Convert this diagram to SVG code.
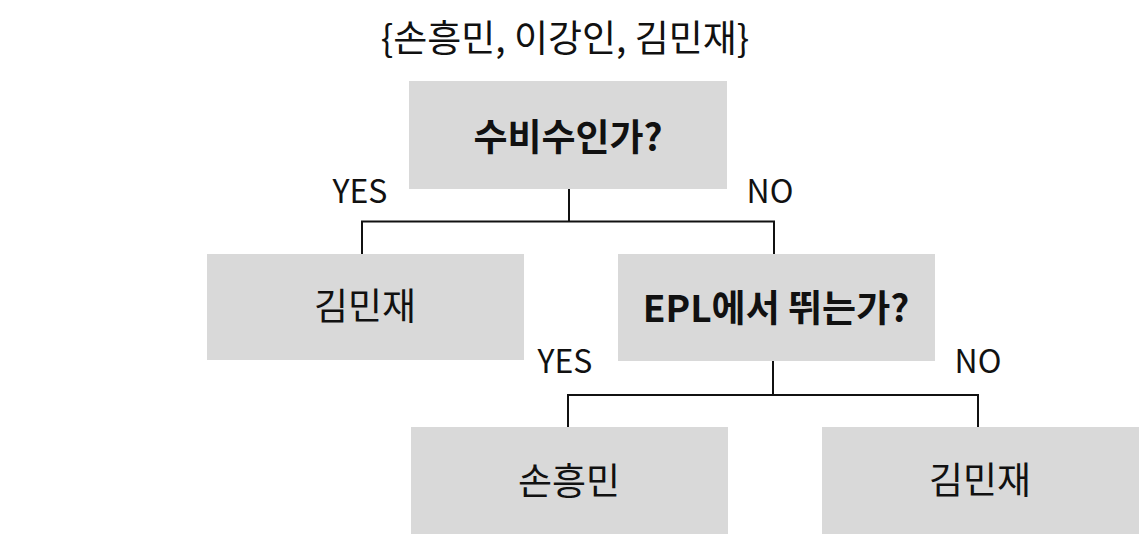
<svg xmlns="http://www.w3.org/2000/svg" width="1141" height="540" viewBox="0 0 1141 540">
<style>
.box{fill:#d9d9d9}
text{font-family:"Noto Sans CJK KR","Noto Sans",sans-serif;fill:#111;text-anchor:middle}
.t{font-size:37px}
.b{font-size:37px;font-weight:bold}
.lbl{font-size:32px}
.ttl{font-size:37px}
.con{fill:none;stroke:#111;stroke-width:2}
</style>
<rect width="1141" height="540" fill="#fff"/>
<text class="ttl" x="565" y="52">{손흥민, 이강인, 김민재}</text>
<g id="connectors">
<path class="con" d="M569 189V221.5M362 255V221.5H774V255"/>
<path class="con" d="M773 361V395M568 428V395H978V428"/>
<text class="lbl" x="360" y="203">YES</text>
<text class="lbl" x="770" y="203">NO</text>
<text class="lbl" x="565" y="373">YES</text>
<text class="lbl" x="978" y="373">NO</text>
</g>
<g id="n1"><rect class="box" x="409" y="81" width="318" height="108"/><text class="b" x="568" y="151">수비수인가?</text></g>
<g id="n2"><rect class="box" x="207" y="254" width="317" height="106"/><text class="t" x="365" y="320">김민재</text></g>
<g id="n3"><rect class="box" x="618" y="254" width="317" height="107"/><text class="b" x="776" y="322">EPL에서 뛰는가?</text></g>
<g id="n4"><rect class="box" x="411" y="427" width="317" height="107"/><text class="t" x="569" y="495">손흥민</text></g>
<g id="n5"><rect class="box" x="822" y="427" width="317" height="107"/><text class="t" x="980" y="494">김민재</text></g>
</svg>
